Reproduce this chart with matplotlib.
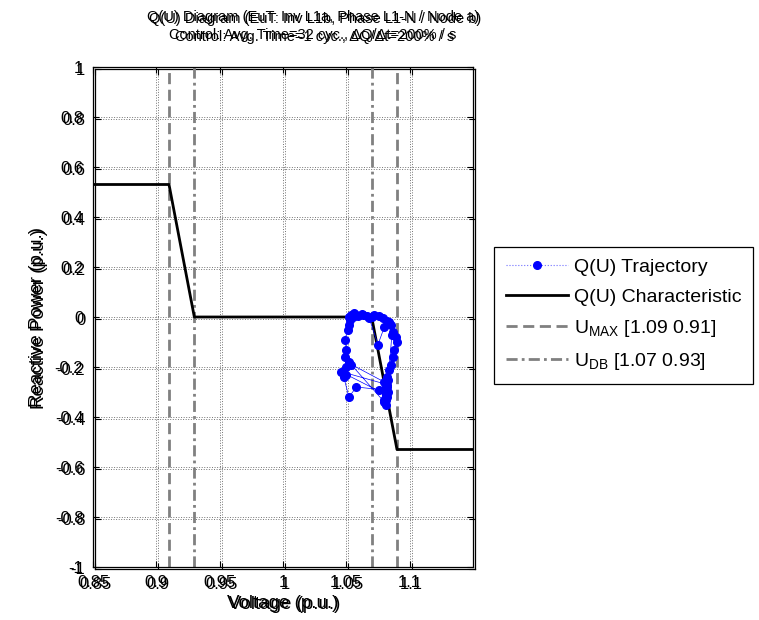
import matplotlib
matplotlib.use("Agg")
import matplotlib.pyplot as plt
from matplotlib.lines import Line2D

plt.rcParams['font.family'] = ['Liberation Sans', 'DejaVu Sans']
plt.rcParams['font.size'] = 10

# Characteristic curve
char_u = [0.85, 0.91, 0.93, 1.07, 1.09, 1.15]
char_q = [0.53, 0.53, 0.0, 0.0, -0.53, -0.53]

# Limits
u_max = [1.09, 0.91]
u_db = [1.07, 0.93]

# Trajectory
traj_u = [1.052, 1.054, 1.056, 1.058, 1.062, 1.066, 1.070, 1.072, 1.076, 1.079,
          1.082, 1.085, 1.087, 1.089, 1.090, 1.088, 1.087, 1.085, 1.084, 1.082,
          1.081, 1.080, 1.081, 1.080, 1.081, 1.082, 1.083, 1.082, 1.076, 1.058,
          1.052, 1.048, 1.046, 1.050, 1.049, 1.050, 1.049, 1.051, 1.052, 1.053,
          1.055, 1.059, 1.063, 1.068, 1.075, 1.080, 1.084, 1.086, 1.083, 1.081,
          1.080, 1.054, 1.050, 1.081, 1.082, 1.047, 1.052, 1.080, 1.082, 1.081]
traj_q = [0.000, 0.010, 0.015, 0.010, 0.012, 0.005, 0.000, 0.010, 0.005, -0.005,
          -0.015, -0.030, -0.060, -0.080, -0.100, -0.130, -0.160, -0.190, -0.210, -0.240,
          -0.270, -0.290, -0.310, -0.330, -0.350, -0.320, -0.300, -0.280, -0.290, -0.280,
          -0.320, -0.240, -0.220, -0.200, -0.160, -0.130, -0.090, -0.050, -0.030, -0.010,
          0.000, 0.005, 0.010, -0.004, -0.110, -0.040, -0.020, -0.070, -0.250, -0.300,
          -0.260, -0.190, -0.230, -0.310, -0.270, -0.220, -0.180, -0.340, -0.300, -0.330]

xticks = [0.85, 0.9, 0.95, 1.0, 1.05, 1.1]
xtick_labels = ['0.85', '0.9', '0.95', '1', '1.05', '1.1']
yticks = [-1, -0.8, -0.6, -0.4, -0.2, 0, 0.2, 0.4, 0.6, 0.8, 1]
ytick_labels = ['-1', '-0.8', '-0.6', '-0.4', '-0.2', '0', '0.2', '0.4', '0.6', '0.8', '1']

titles_a = ["Q(U) Diagram (EuT: Inv L1a, Phase L1-N / Node a)",
            "Control: Avg. Time=32 cyc., \u0394Q/\u0394t=200% / s"]
titles_b = ["Q(U) Diagram (EuT: Inv L1b, Phase L1-N / Node b)",
            "Control: Avg. Time=1 cyc., \u0394Q/\u0394t=200% / s"]

W, H = 759, 620
fig = plt.figure(figsize=(W / 100, H / 100), dpi=100)
x0, x1, y0, y1 = 93, 473, 67, 567
pos1 = [x0 / W, 1 - y1 / H, (x1 - x0) / W, (y1 - y0) / H]
pos2 = [(x0 + 2) / W, 1 - (y1 + 1.5) / H, (x1 - x0) / W, (y1 - y0) / H]

TICK_FS = 12
LABEL_FS = 13.5
TITLE_FS = 10.5


def style_axes(ax):
    ax.set_xlim(0.85, 1.15)
    ax.set_ylim(-1, 1)
    ax.set_xticks(xticks)
    ax.set_xticklabels(xtick_labels)
    ax.set_yticks(yticks)
    ax.set_yticklabels(ytick_labels)
    ax.tick_params(direction='in', top=True, right=True, length=4, width=0.8,
                   labelsize=TICK_FS, colors='black')
    ax.tick_params(axis='x', pad=6)
    ax.tick_params(axis='y', pad=7)
    ax.grid(True, linestyle=':', color='0.45', linewidth=0.7)
    for s in ax.spines.values():
        s.set_linewidth(0.9)
        s.set_color('black')
    ax.set_xlabel("Voltage (p.u.)", fontsize=LABEL_FS, labelpad=3)
    ax.set_ylabel("Reactive Power (p.u.)", fontsize=LABEL_FS, labelpad=6)


ax2 = fig.add_axes(pos2)
style_axes(ax2)
ax2.set_facecolor('none')

ax = fig.add_axes(pos1)
style_axes(ax)
ax.set_facecolor('none')

# titles (two overlapping figures)
tx = 313 / W
for (t, dx, dy) in [(titles_a, 0, 0), (titles_b, 2, 1.5)]:
    fig.text(tx + dx / W, 1 - (17 + dy) / H, t[0], ha='center', va='center',
             fontsize=TITLE_FS)
    fig.text(tx + dx / W, 1 - (35 + dy) / H, t[1], ha='center', va='center',
             fontsize=TITLE_FS)

for u in u_max:
    ax.axvline(u, color='0.5', linestyle=(0, (4, 2)), linewidth=2)
for u in u_db:
    ax.axvline(u, color='0.5', linestyle=(0, (4, 1.5, 1, 1.5)), linewidth=2)

ax.plot(char_u, char_q, color='black', linewidth=2)
ax.plot(traj_u, traj_q, color='blue', linewidth=0.5, marker='o',
        markersize=5.5, markerfacecolor='blue', markeredgecolor='blue')

handles = [
    Line2D([], [], color='#6f6fff', linewidth=0.8, linestyle=':', marker='o',
           markersize=5.5, markerfacecolor='blue', markeredgecolor='blue'),
    Line2D([], [], color='black', linewidth=2),
    Line2D([], [], color='0.5', linewidth=2, linestyle=(0, (4, 2))),
    Line2D([], [], color='0.5', linewidth=2, linestyle=(0, (4, 1.5, 1, 1.5))),
]
labels = ["Q(U) Trajectory", "Q(U) Characteristic",
          r"U$_\mathregular{MAX}$ [1.09 0.91]", r"U$_\mathregular{DB}$ [1.07 0.93]"]
leg = fig.legend(handles, labels, loc='upper left',
                 bbox_to_anchor=(494 / W, 1 - 247 / H), fancybox=False,
                 edgecolor='black', framealpha=1, fontsize=14,
                 handlelength=3.2, labelspacing=0.62, borderpad=0.6,
                 handletextpad=0.3, borderaxespad=0)
leg.get_frame().set_linewidth(0.9)

fig.savefig("out.png", dpi=100)
